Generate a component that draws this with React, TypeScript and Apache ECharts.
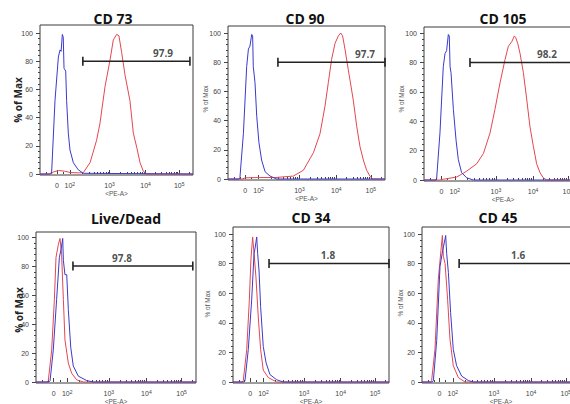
import React, { useEffect, useRef } from 'react';
import * as echarts from 'echarts';

// ---------- data ----------
const panelTitles = ['CD 73', 'CD 90', 'CD 105', 'Live/Dead', 'CD 34', 'CD 45'];
const gateValues = ['97.9', '97.7', '98.2', '97.8', '1.8', '1.6'];
const gateStart = [280, 318, 291, 231, 231, 235];
const gateEnd = [980, 1000, 1000, 980, 1000, 1000];
const gateLevel = 80;
const gateLabelX = [804, 873, 778, 538, 609, 608];

// display channel positions (0..1000) of the biexponential decade labels
const xTickPos = [110, 195, 455, 690, 910];
const xTickBase = ['0', '10', '10', '10', '10'];
const xTickExp = ['', '2', '3', '4', '5'];
const yTickValues = [0, 20, 40, 60, 80, 100];
const yMinorValues = [4, 8, 12, 16, 24, 28, 32, 36, 44, 48, 52, 56, 64, 68, 72, 76, 84, 88, 92, 96];

const cd73Red = [[0, 0], [70, 0], [90, 1.5], [120, 2.5], [160, 2], [200, 1], [260, 0.8], [283, 1], [327, 8], [370, 24], [392, 36], [425, 62], [458, 81], [479, 95], [501, 99], [516, 98], [534, 86], [556, 70], [588, 52], [610, 29], [632, 19], [654, 8], [675, 2], [697, 0], [1000, 0]];
const cd73Blue = [[0, 0], [60, 0], [76, 1], [98, 52], [120, 83], [131, 88], [138, 87], [146, 99], [152, 97], [157, 75], [168, 73], [174, 52], [185, 29], [196, 17], [218, 8], [250, 3], [283, 0.5], [1000, 0]];

const cd90Red = [[0, 0], [90, 0], [110, 0.8], [200, 1], [300, 1], [416, 2], [480, 6], [544, 18], [586, 31], [618, 50], [639, 66], [660, 82], [682, 93], [703, 98], [718, 100], [730, 98], [745, 89], [766, 75], [798, 54], [820, 36], [841, 22], [862, 13], [883, 6], [904, 2], [921, 0], [1000, 0]];
const cd90Blue = [[0, 0], [70, 0], [76, 1], [98, 31], [119, 77], [130, 89], [140, 91], [151, 99], [157, 98], [161, 77], [172, 66], [183, 43], [197, 25], [214, 13], [236, 5], [268, 2], [310, 0], [1000, 0]];

const cd105Red = [[0, 0], [100, 0], [122, 0.5], [207, 2], [270, 6], [333, 11], [376, 18], [418, 32], [449, 48], [481, 66], [513, 82], [534, 91], [555, 94], [572, 98], [580, 97], [593, 93], [608, 86], [629, 73], [650, 55], [671, 36], [692, 23], [713, 11], [734, 5], [755, 1.5], [776, 0], [1000, 0]];
const cd105Blue = [[0, 0], [75, 0], [80, 1], [101, 32], [122, 77], [133, 86], [143, 88], [154, 99], [160, 98], [165, 77], [171, 73], [186, 48], [203, 27], [217, 14], [238, 5], [270, 1.5], [312, 0], [1000, 0]];

const liveDeadRed = [[0, 0], [70, 0], [77, 1], [98, 22], [115, 57], [125, 86], [140, 95], [150, 99], [160, 88], [171, 57], [181, 29], [202, 13], [223, 6], [254, 1.5], [296, 0], [1000, 0]];
const liveDeadBlue = [[0, 0], [80, 0], [88, 1], [108, 22], [129, 57], [146, 86], [156, 91], [167, 99], [171, 84], [181, 74], [192, 74], [202, 50], [217, 24], [233, 11], [265, 4], [317, 1], [358, 0], [1000, 0]];

const cd34Red = [[0, 0], [60, 0], [66, 1], [88, 22], [105, 56], [115, 83], [126, 98], [135, 87], [147, 71], [162, 44], [177, 22], [194, 8], [226, 3], [280, 0], [1000, 0]];
const cd34Blue = [[0, 0], [70, 0], [77, 1], [98, 22], [120, 56], [135, 87], [141, 90], [152, 98], [158, 87], [167, 75], [177, 51], [194, 24], [212, 13], [237, 5], [280, 1.5], [323, 0], [1000, 0]];

const cd45Red = [[0, 0], [55, 0], [61, 1], [82, 22], [103, 69], [120, 89], [129, 99], [135, 85], [146, 80], [162, 56], [177, 29], [198, 11], [230, 3], [272, 0], [1000, 0]];
const cd45Blue = [[0, 0], [65, 0], [72, 1], [93, 28], [114, 78], [131, 89], [141, 94], [150, 99], [156, 87], [167, 74], [181, 47], [198, 22], [219, 11], [251, 4], [293, 1], [325, 0], [1000, 0]];

const redSeries = [cd73Red, cd90Red, cd105Red, liveDeadRed, cd34Red, cd45Red];
const blueSeries = [cd73Blue, cd90Blue, cd105Blue, liveDeadBlue, cd34Blue, cd45Blue];

// ---------- layout (pixels) ----------
const layout = [
  { left: 40, top: 25, width: 153, bottom: 175, y0: 174, y100: 33, nameX: 18, nameY: 100, bold: true, titleX: 113, titleY: 18 },
  { left: 228, top: 26, width: 157, bottom: 180, y0: 179, y100: 33, nameX: 205, nameY: 99, bold: false, titleX: 305, titleY: 18 },
  { left: 424, top: 27, width: 158, bottom: 181, y0: 180, y100: 33, nameX: 401, nameY: 99, bold: false, titleX: 503, titleY: 18 },
  { left: 36, top: 232, width: 160, bottom: 383, y0: 382, y100: 237, nameX: 19, nameY: 310, bold: true, titleX: 126, titleY: 218 },
  { left: 233, top: 227, width: 156, bottom: 383, y0: 382, y100: 234, nameX: 207, nameY: 304, bold: false, titleX: 311, titleY: 217 },
  { left: 422, top: 227, width: 158, bottom: 383, y0: 382, y100: 234, nameX: 400, nameY: 303, bold: false, titleX: 498, titleY: 217 },
];

const RED = '#e3474f';
const BLUE = '#3a3acc';
const AXIS = '#444';

function minorXTicks(): number[] {
  const anchors = [195, 455, 690, 910, 1125];
  const out: number[] = [40, 75, 150];
  for (let k = 0; k < 4; k++) {
    for (let m = 2; m <= 9; m++) {
      const p = anchors[k] + Math.log10(m) * (anchors[k + 1] - anchors[k]);
      if (p < 1000) out.push(Math.round(p));
    }
  }
  return out;
}

export default function App() {
  const ref = useRef<HTMLDivElement>(null);

  useEffect(() => {
    if (!ref.current) return;
    const chart = echarts.init(ref.current, undefined, { renderer: 'svg' });
    const xMinor = minorXTicks();
    const labelMap = new Map<number, string>();
    xTickPos.forEach((p, i) => labelMap.set(p, xTickExp[i] ? `${xTickBase[i]}{s|${xTickExp[i]}}` : xTickBase[i]));

    const grid: any[] = [];
    const xAxis: any[] = [];
    const yAxis: any[] = [];
    const series: any[] = [];
    const graphic: any[] = [];

    layout.forEach((l, i) => {
      const perUnit = (l.y0 - l.y100) / 100;
      const yMax = (l.y0 - l.top) / perUnit;
      const yMin = -(l.bottom - l.y0) / perUnit;
      grid.push({
        left: l.left, top: l.top, width: l.width, height: l.bottom - l.top,
        show: true, borderColor: '#3a3a3a', borderWidth: 1, backgroundColor: 'transparent',
        containLabel: false, outerBoundsMode: 'none',
      });
      xAxis.push({
        gridIndex: i, type: 'value', min: 0, max: 1000, position: 'bottom',
        axisLine: { show: false }, splitLine: { show: false },
        axisTick: { show: true, customValues: xTickPos, inside: true, length: 4, lineStyle: { color: AXIS, width: 1 } },
        axisLabel: {
          show: true, customValues: xTickPos, formatter: (v: number) => labelMap.get(v) ?? '',
          fontSize: 7, lineHeight: 9, color: '#444', margin: 6, fontFamily: 'Liberation Sans',
          rich: { s: { fontSize: 5, lineHeight: 9, verticalAlign: 'top', color: '#444', fontFamily: 'Liberation Sans' } },
        },
        name: '<PE-A>', nameLocation: 'middle', nameGap: 15, nameMoveOverlap: false,
        nameTextStyle: { fontSize: 6.5, color: '#555', fontFamily: 'Liberation Sans' },
      });
      xAxis.push({
        gridIndex: i, type: 'value', min: 0, max: 1000, position: 'bottom',
        axisLine: { show: false }, splitLine: { show: false }, axisLabel: { show: false },
        axisTick: { show: true, customValues: xMinor, inside: true, length: 2, lineStyle: { color: AXIS, width: 1 } },
      });
      yAxis.push({
        gridIndex: i, type: 'value', min: yMin, max: yMax, position: 'left',
        axisLine: { show: false }, splitLine: { show: false },
        axisTick: { show: true, customValues: yTickValues, length: 4, lineStyle: { color: AXIS, width: 1 } },
        axisLabel: { show: true, customValues: yTickValues, fontSize: 7, color: '#444', margin: 7, fontFamily: 'Liberation Sans' },
      });
      yAxis.push({
        gridIndex: i, type: 'value', min: yMin, max: yMax, position: 'left',
        axisLine: { show: false }, splitLine: { show: false }, axisLabel: { show: false },
        axisTick: { show: true, customValues: yMinorValues, length: 2, lineStyle: { color: AXIS, width: 1 } },
      });

      const xi = 2 * i;
      const yi = 2 * i;
      series.push({
        type: 'line', name: 'Stained', xAxisIndex: xi, yAxisIndex: yi, data: redSeries[i],
        symbol: 'none', lineStyle: { color: RED, width: 1 }, silent: true,
      });
      series.push({
        type: 'line', name: 'Control', xAxisIndex: xi, yAxisIndex: yi, data: blueSeries[i],
        symbol: 'none', lineStyle: { color: BLUE, width: 1 }, silent: true,
      });
      series.push({
        type: 'line', name: 'Gate', xAxisIndex: xi, yAxisIndex: yi,
        data: [[gateStart[i], gateLevel], [gateEnd[i], gateLevel]],
        symbol: 'rect', symbolSize: [1.6, 9], showSymbol: true, clip: false,
        itemStyle: { color: '#222' }, lineStyle: { color: '#222', width: 1.5 }, silent: true,
      });
      series.push({
        type: 'scatter', name: 'Gate %', xAxisIndex: xi, yAxisIndex: yi,
        data: [[gateLabelX[i], gateLevel]], symbolSize: 1, itemStyle: { color: 'rgba(0,0,0,0)' },
        clip: false, silent: true,
        label: {
          show: true, position: 'top', distance: 3, formatter: gateValues[i],
          fontSize: 10, fontWeight: 'bold', color: '#222', fontFamily: 'Open Sans',
        },
      });

      graphic.push({
        type: 'text', x: l.titleX, y: l.titleY,
        style: { text: panelTitles[i], align: 'center', verticalAlign: 'middle', fontSize: 14, fontWeight: 'bold', fill: '#111', fontFamily: 'Open Sans' },
      });
      graphic.push({
        type: 'text', x: l.nameX, y: l.nameY, rotation: Math.PI / 2,
        style: l.bold
          ? { text: '% of Max', align: 'center', verticalAlign: 'middle', fontSize: 10, fontWeight: 'bold', fill: '#222', fontFamily: 'Open Sans' }
          : { text: '% of Max', align: 'center', verticalAlign: 'middle', fontSize: 6.5, fill: '#555', fontFamily: 'Liberation Sans' },
      });
    });

    chart.setOption({
      animation: false,
      backgroundColor: '#fff',
      grid, xAxis, yAxis, series, graphic,
    });
    return () => chart.dispose();
  }, []);

  return <div ref={ref} style={{ position: 'fixed', left: 0, top: 0, width: 570, height: 404, background: '#fff' }} />;
}
